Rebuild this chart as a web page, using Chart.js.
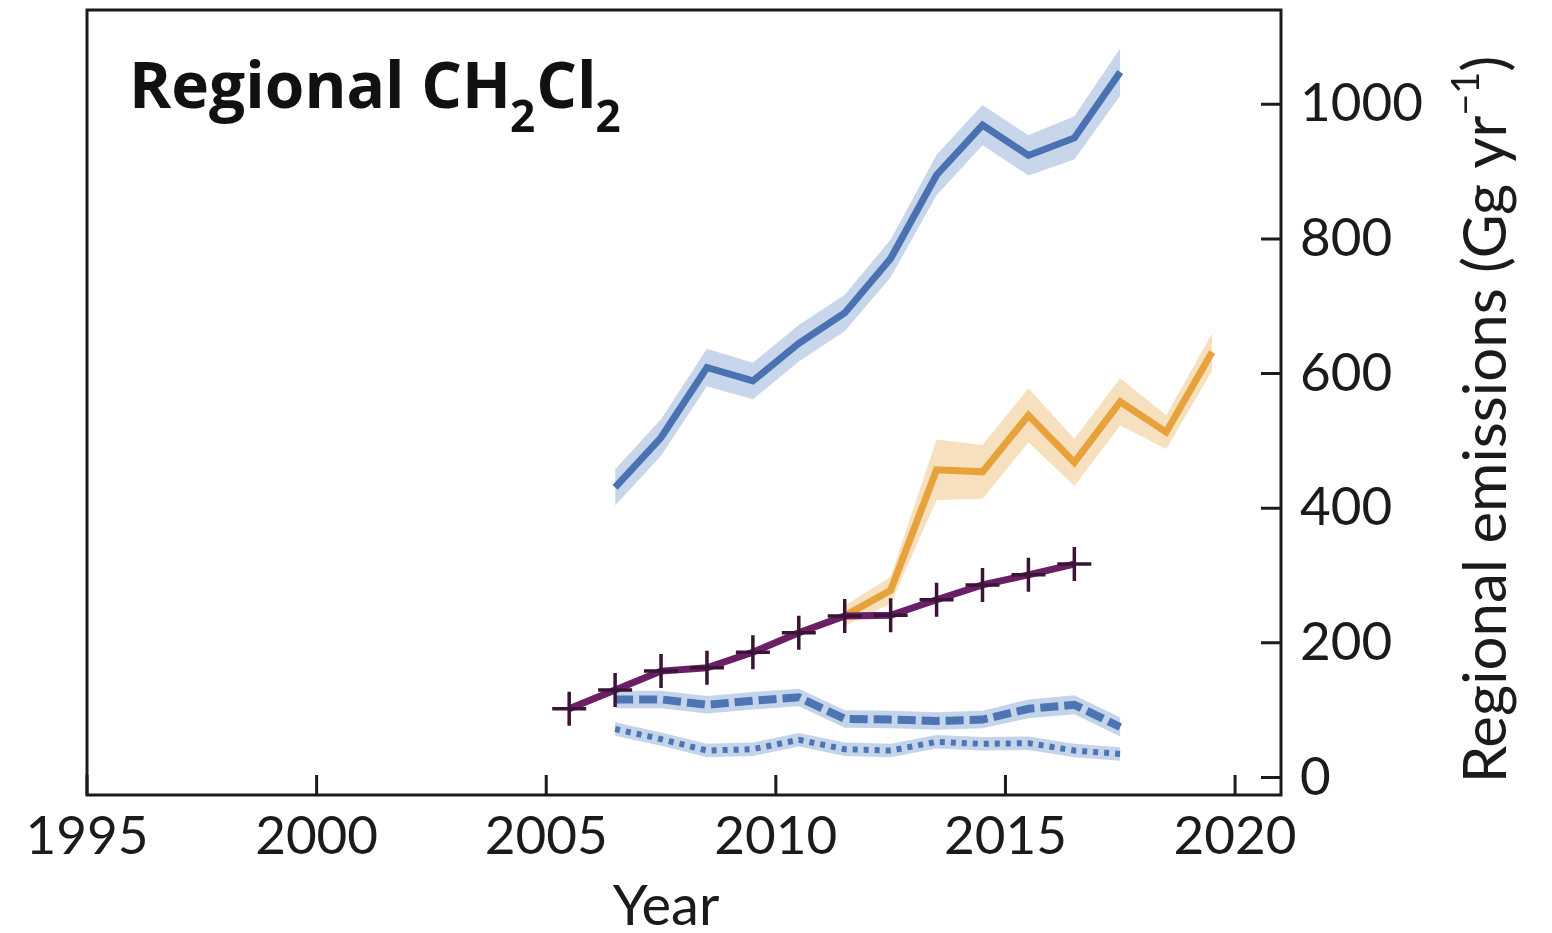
<!DOCTYPE html>
<html>
<head>
<meta charset="utf-8">
<title>Regional CH2Cl2 emissions</title>
<script src="https://cdn.jsdelivr.net/npm/chart.js@4.4.1/dist/chart.umd.min.js"></script>
<style>
  html, body { margin: 0; padding: 0; background: #ffffff; }
  #wrap { width: 1552px; height: 933px; }
</style>
</head>
<body>
<div id="wrap"><canvas id="chart" width="1552" height="933"></canvas></div>
<script>
// Axis ticks
const xTickValues = [1995, 2000, 2005, 2010, 2015, 2020];
const yTickValues = [0, 200, 400, 600, 800, 1000];

// Blue inversion series (solid, dashed, dotted), annual values at mid-year
const blueYears = [2006.5, 2007.5, 2008.5, 2009.5, 2010.5, 2011.5, 2012.5, 2013.5, 2014.5, 2015.5, 2016.5, 2017.5];
const blueSolid = [431, 505, 609, 589, 645, 690, 771, 895, 969, 924, 950, 1048];
const blueSolidErr = [27, 27, 28, 27, 27, 27, 28, 30, 30, 30, 32, 35];
const blueDashed = [116, 116, 108, 114, 119, 87, 86, 84, 86, 102, 108, 75];
const blueDashedErr = [13, 13, 13, 13, 13, 13, 13, 13, 13, 14, 14, 14];
const blueDotted = [72, 57, 40, 42, 56, 42, 40, 53, 50, 51, 40, 35];
const blueDottedErr = [10, 10, 10, 10, 10, 10, 10, 10, 10, 10, 10, 10];

// Orange series
const orangeYears = [2011.5, 2012.5, 2013.5, 2014.5, 2015.5, 2016.5, 2017.5, 2018.5, 2019.5];
const orangeSeries = [240, 278, 457, 454, 538, 468, 558, 513, 632];
const orangeErr = [15, 20, 45, 40, 40, 35, 35, 25, 28];

// Purple series with cross markers
const purpleYears = [2005.5, 2006.5, 2007.5, 2008.5, 2009.5, 2010.5, 2011.5, 2012.5, 2013.5, 2014.5, 2015.5, 2016.5];
const purpleSeries = [102, 130, 158, 163, 186, 215, 240, 241, 264, 286, 301, 317];

const FONT = 'Lato, "Noto Sans", sans-serif';
const INK = '#1b1b1b';

const pts = (xs, ys) => xs.map((x, i) => ({ x, y: ys[i] }));
const shifted = (xs, ys, es, sign) => xs.map((x, i) => ({ x, y: ys[i] + sign * es[i] }));

function band(xs, ys, es, color, order) {
  return [
    { data: shifted(xs, ys, es, 1), fill: '+1', backgroundColor: color, borderWidth: 0,
      pointRadius: 0, order },
    { data: shifted(xs, ys, es, -1), fill: false, borderWidth: 0, pointRadius: 0, order }
  ];
}

const datasets = [
  ...band(blueYears, blueDotted, blueDottedErr, 'rgba(186,204,232,0.85)', 9),
  { data: pts(blueYears, blueDotted), borderColor: '#4d74b3', borderWidth: 6, borderDash: [5, 6],
    pointRadius: 0, fill: false, order: 8 },
  ...band(blueYears, blueDashed, blueDashedErr, 'rgba(186,204,232,0.85)', 7),
  { data: pts(blueYears, blueDashed), borderColor: '#4d74b3', borderWidth: 8, borderDash: [18, 6],
    pointRadius: 0, fill: false, order: 6 },
  ...band(blueYears, blueSolid, blueSolidErr, 'rgba(194,209,233,0.9)', 5),
  { data: pts(blueYears, blueSolid), borderColor: '#4a71b1', borderWidth: 7,
    pointRadius: 0, fill: false, order: 4 },
  ...band(orangeYears, orangeSeries, orangeErr, 'rgba(246,222,186,0.95)', 3),
  { data: pts(orangeYears, orangeSeries), borderColor: '#e7a23b', borderWidth: 7,
    pointRadius: 0, fill: false, order: 2 },
  { data: pts(purpleYears, purpleSeries), borderColor: '#6b2065', borderWidth: 7,
    pointStyle: 'cross', pointRadius: 17, pointBorderColor: '#3a1437', pointBorderWidth: 3.5,
    fill: false, order: 1 }
];

// Frame, inward tick marks, panel title and axis titles
const decorations = {
  id: 'decorations',
  afterDraw(chart) {
    const { ctx, chartArea: a, scales } = chart;
    ctx.save();
    ctx.strokeStyle = INK;
    ctx.lineWidth = 3;
    ctx.strokeRect(a.left, a.top, a.right - a.left, a.bottom - a.top);
    ctx.beginPath();
    scales.x.ticks.forEach(t => {
      const px = scales.x.getPixelForValue(t.value);
      ctx.moveTo(px, a.bottom);
      ctx.lineTo(px, a.bottom - 20);
    });
    scales.y.ticks.forEach(t => {
      const py = scales.y.getPixelForValue(t.value);
      ctx.moveTo(a.right, py);
      ctx.lineTo(a.right - 20, py);
    });
    ctx.stroke();

    // Panel title with subscripts
    ctx.fillStyle = '#111';
    ctx.textBaseline = 'alphabetic';
    ctx.textAlign = 'left';
    const big = 'bold 64px "Open Sans", sans-serif';
    const small = 'bold 44px "Open Sans", sans-serif';
    const parts = [['Regional CH', big, 0], ['2', small, 24], ['Cl', big, 0], ['2', small, 24]];
    let x = a.left + 42;
    const base = a.top + 98;
    parts.forEach(([t, f, dy]) => {
      ctx.font = f;
      ctx.fillText(t, x, base + dy);
      x += ctx.measureText(t).width + (dy ? 1 : -1);
    });

    // x-axis title
    ctx.fillStyle = INK;
    ctx.font = '56px ' + FONT;
    ctx.textAlign = 'center';
    ctx.fillText('Year', (a.left + a.right) / 2 - 18, a.bottom + 130);

    // Right-hand axis title, reading bottom to top
    ctx.save();
    ctx.translate(a.right + 206, (a.top + a.bottom) / 2 + 17);
    ctx.rotate(-Math.PI / 2);
    ctx.textAlign = 'left';
    const main = '60px ' + FONT;
    const sup = '38px ' + FONT;
    ctx.font = main;
    const w1 = ctx.measureText('Regional emissions (Gg yr').width;
    ctx.font = sup;
    const w2 = ctx.measureText('\u22121').width;
    ctx.font = main;
    const w3 = ctx.measureText(')').width;
    let sx = -(w1 + w2 + w3) / 2;
    ctx.textBaseline = 'middle';
    ctx.fillText('Regional emissions (Gg yr', sx, 0);
    sx += w1;
    ctx.font = sup;
    ctx.fillText('\u22121', sx, -20);
    sx += w2;
    ctx.font = main;
    ctx.fillText(')', sx, 0);
    ctx.restore();
    ctx.restore();
  }
};

new Chart(document.getElementById('chart'), {
  type: 'line',
  data: { datasets },
  options: {
    responsive: false,
    animation: false,
    devicePixelRatio: 1,
    layout: { autoPadding: false, padding: { left: 87, top: 10, right: 0, bottom: 0 } },
    plugins: { legend: { display: false }, tooltip: { enabled: false } },
    elements: { line: { tension: 0 } },
    scales: {
      x: {
        type: 'linear',
        min: 1995,
        max: 2021,
        afterBuildTicks: s => { s.ticks = xTickValues.map(v => ({ value: v })); },
        afterFit: s => { s.height = 138; s.paddingLeft = 0; s.paddingRight = 0; },
        grid: { display: false, drawTicks: false },
        border: { display: false },
        ticks: { color: INK, font: { family: FONT, size: 53 }, padding: 10, maxRotation: 0,
          callback: v => String(v) }
      },
      y: {
        type: 'linear',
        position: 'right',
        min: -26,
        max: 1140,
        afterBuildTicks: s => { s.ticks = yTickValues.map(v => ({ value: v })); },
        afterFit: s => { s.width = 271; s.paddingTop = 0; s.paddingBottom = 0; },
        grid: { display: false, drawTicks: false },
        border: { display: false },
        ticks: { color: INK, font: { family: FONT, size: 53 }, padding: 19,
          callback: v => String(v) }
      }
    }
  },
  plugins: [decorations]
});
</script>
</body>
</html>
